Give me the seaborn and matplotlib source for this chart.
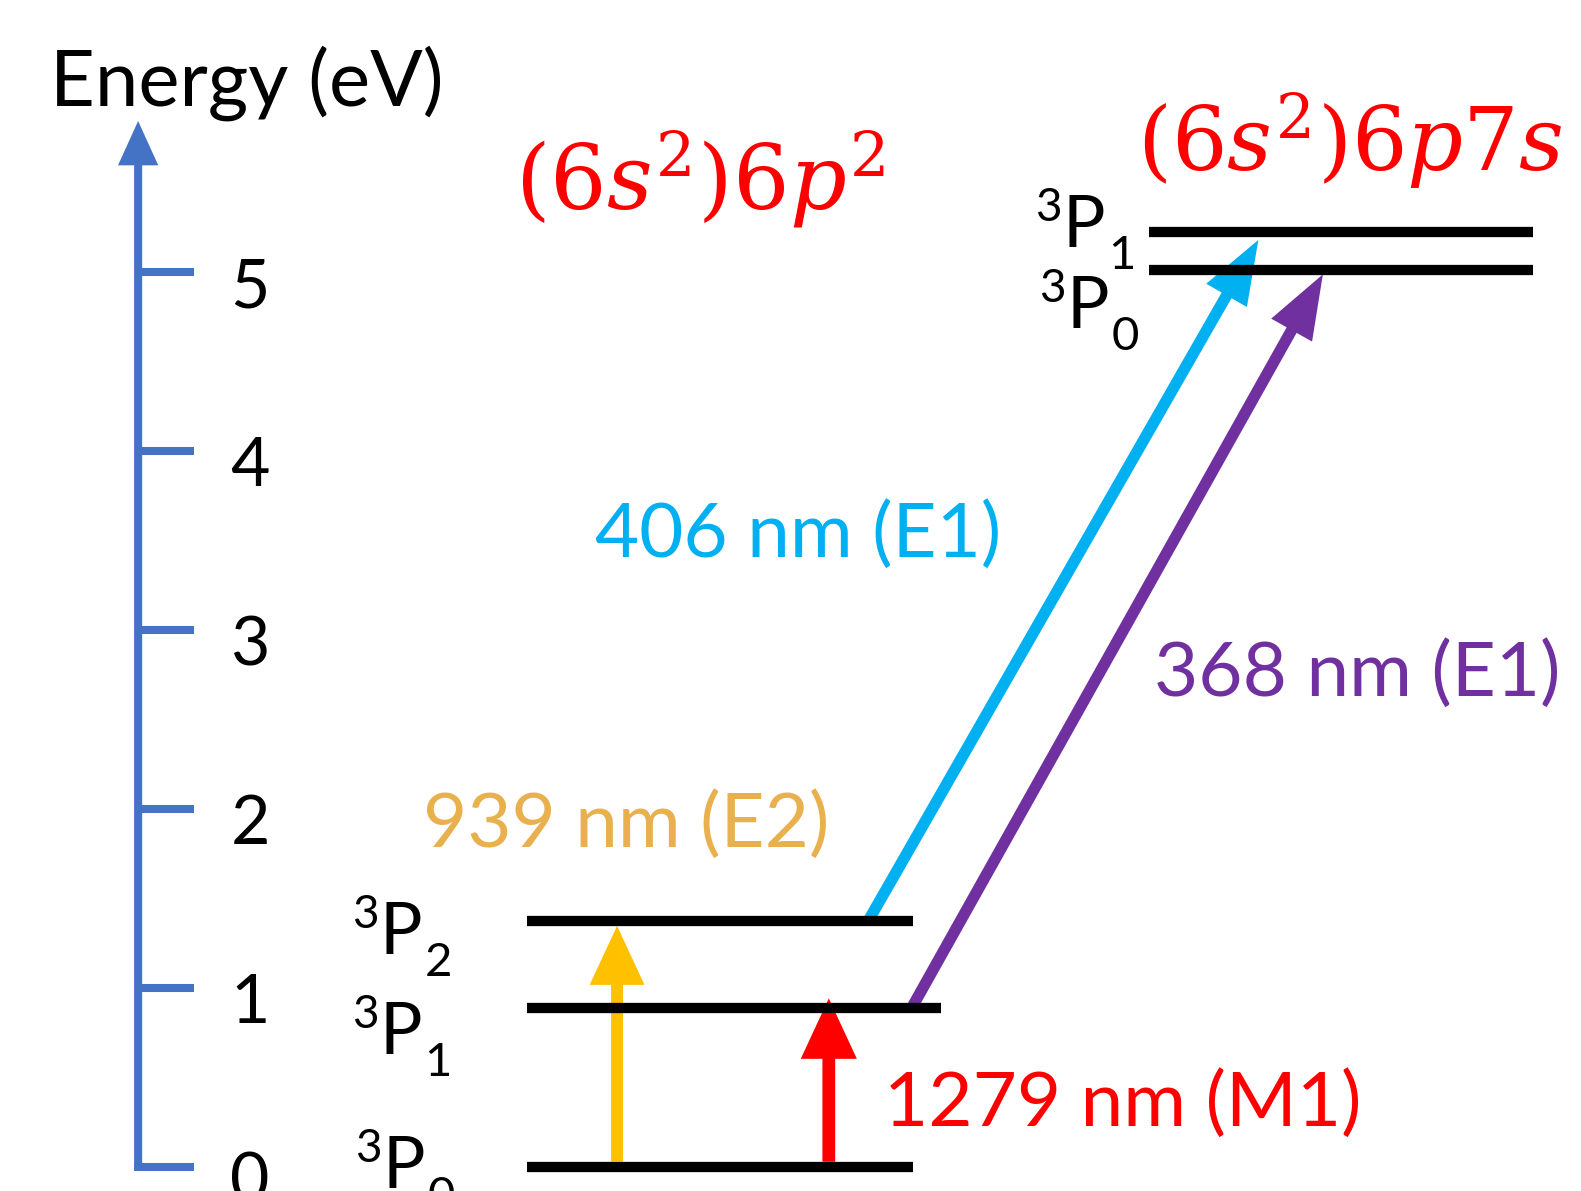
import numpy as np
import pandas as pd
import matplotlib
matplotlib.use("Agg")
import matplotlib.pyplot as plt
import seaborn as sns
from matplotlib.patches import FancyArrowPatch, ArrowStyle

# ---------------- data ----------------
tick_values = [0, 1, 2, 3, 4, 5]
lower_terms = ["0", "1", "2"]            # 3P_J of (6s2)6p2
lower_E = [0.0, 0.885, 1.375]            # eV (as drawn)
upper_terms = ["0", "1"]                 # 3P_J of (6s2)6p7s
upper_E = [5.011, 5.226]                 # eV (as drawn)
trans_labels = ["939 nm (E2)", "1279 nm (M1)", "406 nm (E1)", "368 nm (E1)"]
trans_colors = ["#FFC000", "#FF0000", "#00B0F0", "#7030A0"]
text_colors = ["#E9B04E", "#FF0000", "#00B0F0", "#7030A0"]
config_lower = r"$(6s^2)6p^2$"
config_upper = r"$(6s^2)6p7s$"
axis_title = "Energy (eV)"

# ---------------- layout ----------------
sns.set_theme(style="white")
plt.rcParams["font.family"] = ["Lato", "DejaVu Sans"]
plt.rcParams["mathtext.fontset"] = "dejavuserif"
plt.rcParams["text.color"] = "black"

W, H = 1568, 1181
Y0, K = 1157.0, 177.4


def E_of(ypx):
    return (Y0 - ypx) / K


fig = plt.figure(figsize=(15.81, 11.91), dpi=100)
ax = fig.add_axes([0, 0, 1, 1])

AX_BLUE = "#4472C4"


def arrow(x0, y0, x1, y1, color, lw, hl, hw):
    p = FancyArrowPatch((x0, y0), (x1, y1),
                        arrowstyle=ArrowStyle("-|>", head_length=hl, head_width=hw),
                        mutation_scale=1, lw=lw, color=color,
                        shrinkA=0, shrinkB=0, capstyle="butt", joinstyle="miter")
    ax.add_patch(p)


# levels via seaborn
lower_x = [(523, 905), (523, 933), (523, 905)]
upper_x = [(1140, 1520), (1140, 1520)]
rows = []
for name, e, (xa, xb) in zip(lower_terms, lower_E, lower_x):
    rows += [dict(level="L" + name, x=xa, E=e), dict(level="L" + name, x=xb, E=e)]
for name, e, (xa, xb) in zip(upper_terms, upper_E, upper_x):
    rows += [dict(level="U" + name, x=xa, E=e), dict(level="U" + name, x=xb, E=e)]
df = pd.DataFrame(rows)
sns.lineplot(data=df, x="x", y="E", units="level", estimator=None, color="black",
             lw=7.4, ax=ax, legend=False, solid_capstyle="butt")
ax.set_xlim(0, W)
ax.set_ylim(E_of(H), E_of(0))
ax.axis("off")

# energy axis
arrow(137, E_of(1161), 137, E_of(120), AX_BLUE, 5.8, 22, 10)
for t in tick_values:
    ax.plot([133 if t == 0 else 137, 192], [t, t], color=AX_BLUE, lw=5.8,
            solid_capstyle="butt")
    ax.text(248, t - 16 / K, str(t), fontsize=49, ha="center", va="center",
            color="black")
ax.text(50, E_of(82), axis_title, fontsize=56, ha="left", va="center", color="black")


# term labels
def term(xl, yP, sub, xsub):
    ax.text(xl, E_of(yP - 26), "3", fontsize=33, ha="left", va="baseline", color="black")
    ax.text(xl + 27, E_of(yP), "P", fontsize=51, ha="left", va="baseline", color="black")
    ax.text(xsub, E_of(yP + 22), sub, fontsize=34, ha="left", va="baseline", color="black")


term(349, 946, lower_terms[2], 421)
term(349, 1045, lower_terms[1], 421)
term(352, 1178, lower_terms[0], 424)
term(1027, 245, upper_terms[1], 1099)
term(1031, 325, upper_terms[0], 1102)

# transitions
arrow(612, lower_E[0] + 5 / K, 612, lower_E[2] - 5 / K, trans_colors[0], 8.6, 28, 13)
arrow(822, lower_E[0] + 5 / K, 822, lower_E[1] + 10 / K, trans_colors[1], 9.2, 28, 13)
arrow(860, lower_E[2] - 2 / K, 1248, upper_E[1] - 8 / K, trans_colors[2], 8.2, 30, 11)
arrow(905, lower_E[1] + 2 / K, 1312, upper_E[0] - 4 / K, trans_colors[3], 8.2, 30, 11)

ax.text(420, E_of(818), trans_labels[0], fontsize=55, color=text_colors[0],
        ha="left", va="center")
ax.text(877, E_of(1095), trans_labels[1], fontsize=55, color=text_colors[1],
        ha="left", va="center")
ax.text(590, E_of(530), trans_labels[2], fontsize=55, color=text_colors[2],
        ha="left", va="center")
ax.text(1145, E_of(668), trans_labels[3], fontsize=55, color=text_colors[3],
        ha="left", va="center")

# configurations
ax.text(511, E_of(178), config_lower, fontsize=64, color="#FF0000", ha="left", va="center")
ax.text(1128, E_of(140), config_upper, fontsize=63, color="#FF0000", ha="left", va="center")

fig.savefig("out.png", dpi=100)
